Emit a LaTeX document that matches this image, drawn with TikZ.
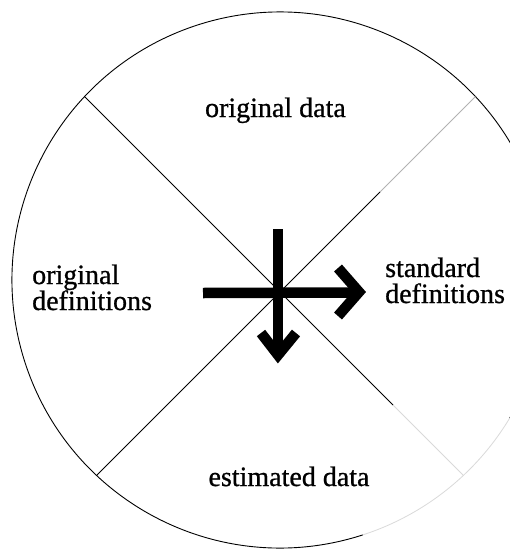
\documentclass[tikz,border=0pt]{standalone}
\usepackage{fontspec}
\setmainfont[FakeBold=0.8]{Liberation Serif}
\begin{document}
\begin{tikzpicture}[x=1pt,y=-1pt,
  thinline/.style={line width=0.9pt, black},
  faded/.style={line width=0.8pt, black!30},
  veryfaded/.style={line width=0.8pt, black!15},
  bigarrow/.style={line width=10.5pt, black, line join=miter, line cap=butt},
  lbl/.style={font=\fontsize{28}{28}\selectfont, inner sep=0pt}]
\useasboundingbox (0,0) rectangle (510,549);
\clip (0,0) rectangle (510,549);
% geometry
\coordinate (O) at (280,280);   % centre of the circle
\coordinate (C) at (280,292);   % crossing point of the two diagonals
\coordinate (UL) at (84.6,96.6);
\coordinate (LL) at (96.6,475.4);
\coordinate (UR) at (475.4,96.6);
\coordinate (LR) at (463.4,475.4);
\coordinate (URf) at (380,192);
\coordinate (LRf) at (393,405);
% circle
\draw[thinline] (O) ++(72:268) arc[start angle=72, end angle=391, radius=268];
\draw[veryfaded] (O) ++(31:268) arc[start angle=31, end angle=72, radius=268];
% diagonals
\draw[thinline] (UL) -- (C) -- (LRf);
\draw[veryfaded] (LRf) -- (LR);
\draw[thinline] (LL) -- (C) -- (URf);
\draw[faded] (URf) -- (UR);
% horizontal arrow
\coordinate (hS) at (203,293);
\coordinate (hE) at (355,292.5);
\coordinate (hT) at (359,292);
\coordinate (hB1) at (338,268);
\coordinate (hB2) at (338,316);
\draw[bigarrow] (hS) -- (hE);
\draw[bigarrow] (hB1) -- (hT) -- (hB2);
% vertical arrow
\coordinate (vS) at (278,229);
\coordinate (vE) at (278,350);
\coordinate (vT) at (278,355);
\coordinate (vB1) at (261,333);
\coordinate (vB2) at (296,333);
\draw[bigarrow] (vS) -- (vE);
\draw[bigarrow] (vB1) -- (vT) -- (vB2);
% labels
\node[lbl, anchor=base east] (origdata) at (346,117) {original data};
\node[lbl, anchor=base west] (origdef1) at (32,284) {original};
\node[lbl, anchor=base west] (origdef2) at (32,310) {definitions};
\node[lbl, anchor=base west] (stddef1) at (385,277) {standard};
\node[lbl, anchor=base west] (stddef2) at (385,303) {definitions};
\node[lbl, anchor=base] (estdata) at (289,486) {estimated data};
\end{tikzpicture}
\end{document}
